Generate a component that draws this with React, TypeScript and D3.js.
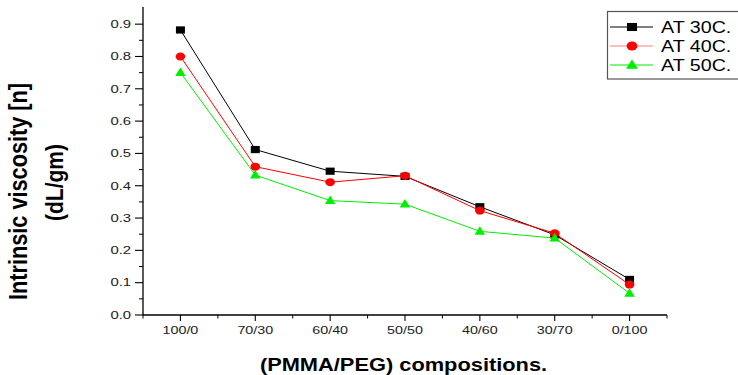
import React from "react";
import * as d3 from "d3";

const categories = ["100/0", "70/30", "60/40", "50/50", "40/60", "30/70", "0/100"];
const at30 = [0.882, 0.512, 0.445, 0.429, 0.335, 0.248, 0.11];
const at40 = [0.8, 0.459, 0.411, 0.431, 0.323, 0.253, 0.094];
const at50 = [0.75, 0.433, 0.354, 0.343, 0.259, 0.238, 0.067];
const seriesNames = ["AT 30C.", "AT 40C.", "AT 50C."];
const yTicks = [0, 0.1, 0.2, 0.3, 0.4, 0.5, 0.6, 0.7, 0.8, 0.9];

const FONT = "'Liberation Sans', Arial, sans-serif";

export default function App() {
  const W = 738, H = 375;
  const x = d3.scaleLinear().domain([-0.5, categories.length - 0.5]).range([143, 667]);
  const y = d3.scaleLinear().domain([0, 0.95]).range([315, 8]);
  const line = d3.line<number>().x((_, i) => x(i)).y((d) => y(d));
  const series = [
    { name: seriesNames[0], data: at30, color: "#000000", legendColor: "#000000", shape: "square" },
    { name: seriesNames[1], data: at40, color: "#ff0000", legendColor: "#ff8080", shape: "circle" },
    { name: seriesNames[2], data: at50, color: "#00ee00", legendColor: "#00ee00", shape: "triangle" },
  ];
  const marker = (shape: string, cx: number, cy: number, color: string, key: any, k = 1) => {
    if (shape === "square") return <rect key={key} x={cx - 4.5 * k} y={cy - 3.6 * k} width={9 * k} height={7.2 * k} fill={color} />;
    if (shape === "circle") return <ellipse key={key} cx={cx} cy={cy} rx={4.8 * k} ry={4 * k} fill={color} />;
    const w = 10.5 * k, h = 8.5 * k;
    return <path key={key} d={`M${cx},${cy - h * 0.6}L${cx + w / 2},${cy + h * 0.4}L${cx - w / 2},${cy + h * 0.4}Z`} fill={color} />;
  };
  const minorY = d3.range(0.05, 0.95, 0.1);
  return (
    <svg width={W} height={H} style={{ position: "absolute", left: 0, top: 0, background: "#fff" }} fontFamily={FONT}>
      {/* y axis */}
      <line x1={143} x2={143} y1={7} y2={315} stroke="#000" strokeWidth={1.3} />
      {yTicks.map((t) => (
        <g key={t}>
          <line x1={135} x2={143} y1={y(t)} y2={y(t)} stroke="#000" strokeWidth={1.1} />
          <text transform={`translate(131,${y(t) + 3.8}) scale(1.35,1)`} textAnchor="end" fontSize={11} fill="#222">{t.toFixed(1)}</text>
        </g>
      ))}
      {minorY.map((t) => (
        <line key={t} x1={139} x2={143} y1={y(t)} y2={y(t)} stroke="#000" strokeWidth={1} />
      ))}
      {/* x axis */}
      <line x1={143} x2={667} y1={315} y2={315} stroke="#000" strokeWidth={1.3} />
      {categories.map((c, i) => (
        <g key={c}>
          <line x1={x(i)} x2={x(i)} y1={315} y2={321} stroke="#000" strokeWidth={1.1} />
          <text transform={`translate(${x(i)},334) scale(1.3,1)`} textAnchor="middle" fontSize={11} fill="#222">{c}</text>
        </g>
      ))}
      {d3.range(-0.5, categories.length, 1).map((v) => (
        <line key={v} x1={x(v)} x2={x(v)} y1={315} y2={318.5} stroke="#000" strokeWidth={1} />
      ))}
      {/* series */}
      {series.map((s) => (
        <g key={s.name}>
          <path d={line(s.data) || ""} fill="none" stroke={s.color} strokeWidth={1} />
          {s.data.map((v, i) => marker(s.shape, x(i), y(v), s.color, i))}
        </g>
      ))}
      {/* legend */}
      <rect x={607.5} y={11.5} width={140} height={67.5} fill="#fff" stroke="#555" strokeWidth={1.2} />
      {series.map((s, i) => {
        const cy = 27 + i * 19;
        return (
          <g key={s.name}>
            <line x1={610} x2={653} y1={cy} y2={cy} stroke={s.legendColor} strokeWidth={1.2} />
            {marker(s.shape, 632, cy, s.color, "m", 1.12)}
            <text transform={`translate(661,${cy + 5.8}) scale(1.23,1)`} fontSize={16}>{s.name}</text>
          </g>
        );
      })}
      {/* titles */}
      <text transform="translate(27,191.5) rotate(-90) scale(1,1.15)" textAnchor="middle" fontSize={21.7} fontWeight="bold">Intrinsic viscosity [n]</text>
      <text transform="translate(63,182.5) rotate(-90) scale(1,1.12)" textAnchor="middle" fontSize={21} fontWeight="bold">(dL/gm)</text>
      <text transform="translate(403.5,371) scale(1.18,1)" textAnchor="middle" fontSize={18.5} fontWeight="bold">(PMMA/PEG) compositions.</text>
    </svg>
  );
}
